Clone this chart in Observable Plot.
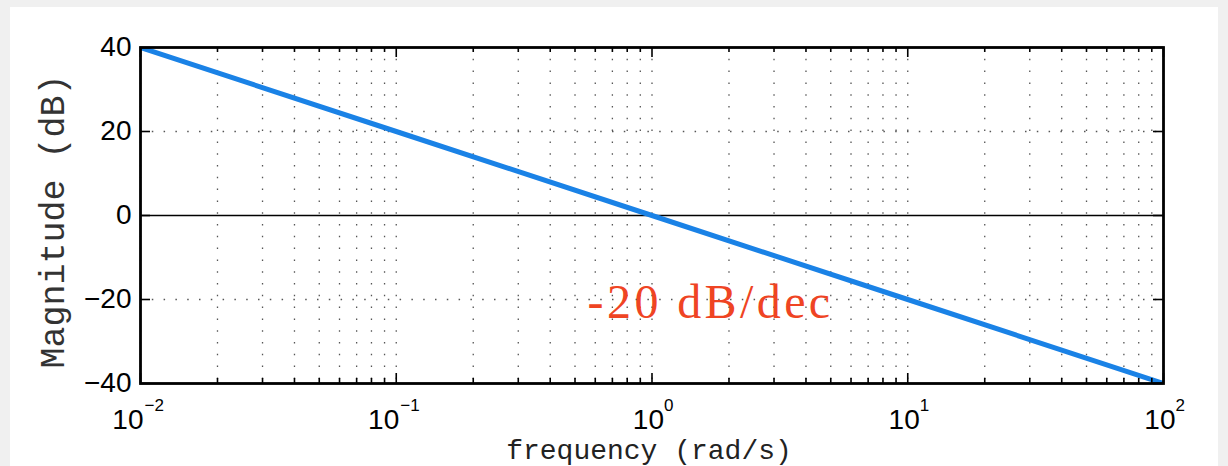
<!DOCTYPE html>
<html><head><meta charset="utf-8">
<script src="https://cdn.jsdelivr.net/npm/d3@7"></script>
<script src="https://cdn.jsdelivr.net/npm/@observablehq/plot@0.6"></script>
<style>
html,body{margin:0;padding:0;background:#f0f0f0;width:1228px;height:466px;overflow:hidden;}
#wrap{position:absolute;left:10px;top:7px;width:1208px;height:459px;background:#fff;}
svg g[font-family="Liberation Serif"] text{letter-spacing:3.4px}
</style></head><body><div id="wrap"></div>
<script>
// ---- data ----
const freq = [0.01, 0.1, 1, 10, 100];
const magnitude = [40, 20, 0, -20, -40];
const decadeExponents = [-2, -1, 0, 1, 2];
const yTicks = [-40, -20, 0, 20, 40];
const yGridValues = [-20, 20];
const minorMultipliers = [2, 3, 4, 5, 6, 7, 8, 9];
const annotation = [{text: "-20 dB/dec", f: 0.56, db: -24.5}];
const xLabel = "frequency (rad/s)";
const yLabel = "Magnitude (dB)";

// ---- derived tables ----
const majorTicks = decadeExponents.map(e => 10 ** e);
const minorTicks = decadeExponents.slice(0, -1).flatMap(e => minorMultipliers.map(m => m * 10 ** e));
const gridTicks = [...majorTicks, ...minorTicks];
const curve = freq.map((f, i) => ({f, db: magnitude[i]}));
const xTickLabels = decadeExponents.map(e => ({v: 10 ** e, sup: e < 0 ? "\u2212" + (-e) : String(e), neg: e < 0}));

const W = 1208, H = 459, ML = 130, MR = 55, MT = 40, MB = 83;
const FW = W - ML - MR, FH = H - MT - MB;

const dotted = {stroke: "#555", strokeOpacity: 1, strokeWidth: 1.3, strokeDasharray: "1.5,10.3"};
const tk = {stroke: "black", strokeWidth: 1.6};

const chart = Plot.plot({
  width: W, height: H,
  marginLeft: ML, marginRight: MR, marginTop: MT, marginBottom: MB,
  x: {type: "log", domain: [0.01, 100], axis: null},
  y: {domain: [-40, 40], axis: null},
  style: {background: "transparent", fontFamily: "Liberation Sans", color: "black"},
  marks: [
    Plot.gridX(gridTicks, dotted),
    Plot.gridY(yGridValues, dotted),
    Plot.ruleY([0], {stroke: "black", strokeWidth: 1.5}),
    Plot.line(curve, {x: "f", y: "db", stroke: "#1a82e6", strokeWidth: 5, clip: true}),
    // inward ticks
    Plot.ruleX(minorTicks, {...tk, insetTop: FH - 5}),
    Plot.ruleX(minorTicks, {...tk, insetBottom: FH - 5}),
    Plot.ruleX(majorTicks, {...tk, insetTop: FH - 10}),
    Plot.ruleX(majorTicks, {...tk, insetBottom: FH - 10}),
    Plot.ruleY(yTicks, {...tk, insetRight: FW - 10}),
    Plot.ruleY(yTicks, {...tk, insetLeft: FW - 10}),
    // y tick labels
    Plot.axisY(yTicks, {anchor: "left", tickSize: 0, tickPadding: 9, fontSize: 28, label: null, fill: "black"}),
    // x tick labels: 10 with superscript exponent
    Plot.text(xTickLabels, {filter: d => d.neg, x: "v", frameAnchor: "bottom", text: () => "10", textAnchor: "end", lineAnchor: "bottom", dx: 3, dy: 45, fontSize: 28, fill: "black"}),
    Plot.text(xTickLabels, {filter: d => d.neg, x: "v", frameAnchor: "bottom", text: "sup", textAnchor: "start", lineAnchor: "bottom", dx: 4, dy: 27, fontSize: 17, fill: "black"}),
    Plot.text(xTickLabels, {filter: d => !d.neg, x: "v", frameAnchor: "bottom", text: () => "10", textAnchor: "end", lineAnchor: "bottom", dx: 12, dy: 45, fontSize: 28, fill: "black"}),
    Plot.text(xTickLabels, {filter: d => !d.neg, x: "v", frameAnchor: "bottom", text: "sup", textAnchor: "start", lineAnchor: "bottom", dx: 12, dy: 27, fontSize: 17, fill: "black"}),
    // axis titles
    Plot.text([xLabel], {frameAnchor: "bottom", textAnchor: "middle", lineAnchor: "bottom", dx: -3, dy: 75, fontSize: 28, fontFamily: "Liberation Mono", fill: "#222"}),
    Plot.text([yLabel], {frameAnchor: "left", rotate: -90, textAnchor: "middle", lineAnchor: "bottom", dx: -77, dy: 6, fontSize: 35, fontFamily: "Liberation Mono", fill: "#333"}),
    // annotation
    Plot.text(annotation, {x: "f", y: "db", text: "text", textAnchor: "start", lineAnchor: "bottom", fontSize: 48, fontFamily: "Liberation Serif", fill: "#ef4423"}),
    Plot.frame({stroke: "black", strokeWidth: 2.8})
  ]
});
document.getElementById("wrap").append(chart);
</script>
</body></html>
